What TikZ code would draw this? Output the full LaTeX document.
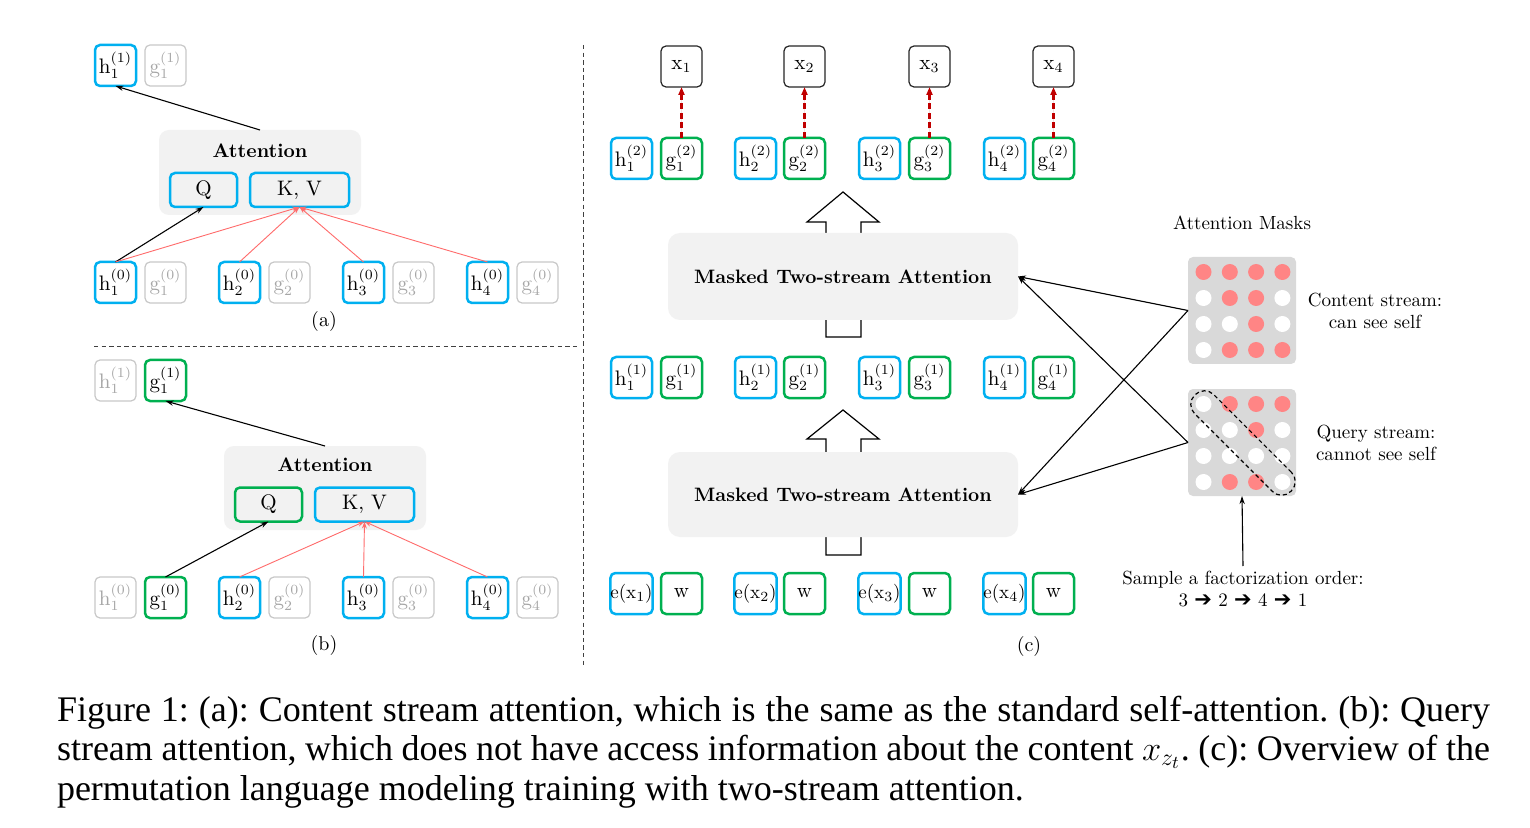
\documentclass[tikz,border=0pt]{standalone}
\usepackage{amsmath}
\usepackage{amssymb}
\usepackage{fontspec}
\newfontfamily\capfont{Liberation Serif}
\newfontfamily\arrowfont{DejaVu Sans}
\usepackage{tikz}
\usetikzlibrary{arrows.meta}

\definecolor{cblue}{HTML}{00B0F0}
\definecolor{cgreen}{HTML}{00B050}
\definecolor{cgrayline}{HTML}{C8C8C8}
\definecolor{cgraytext}{HTML}{A6A6A6}
\definecolor{cpanel}{HTML}{F2F2F2}
\definecolor{cmask}{HTML}{D9D9D9}
\definecolor{cdot}{HTML}{FF8585}
\definecolor{cline}{HTML}{FF6B6B}
\definecolor{cdark}{HTML}{C00000}

\newcommand{\hlab}[2]{$\mathrm{h}_{#1}^{(#2)}$}
\newcommand{\glab}[2]{$\mathrm{g}_{#1}^{(#2)}$}
\newcommand{\ordarrow}{{\arrowfont\fontsize{10.5}{11}\selectfont ➔}}

\begin{document}
\begin{tikzpicture}[
		x=0.5pt, y=-0.5pt,
		every node/.style={inner sep=0pt, outer sep=0pt},
		cell/.style={rectangle, rounded corners=2.5pt, minimum size=20.5pt,
			line width=1.25pt, font=\fontsize{10.5}{12}\selectfont},
		hcell/.style={cell, draw=cblue},
		gcell/.style={cell, draw=cgreen},
		offcell/.style={cell, draw=cgrayline, line width=0.6pt, text=cgraytext},
		xcell/.style={cell, draw=black!85, line width=0.6pt},
		panel/.style={rectangle, fill=cpanel, rounded corners=5pt},
		qk/.style={rectangle, rounded corners=2.5pt, line width=1.25pt,
			minimum height=17pt, font=\fontsize{10.5}{12}\selectfont},
		mta/.style={panel, rounded corners=6pt, minimum width=175pt,
			font=\bfseries\fontsize{9.7}{12}\selectfont},
		mask/.style={rectangle, fill=cmask, rounded corners=2.5pt,
			minimum width=54pt, minimum height=53.5pt},
		note/.style={align=center, font=\fontsize{9.5}{11}\selectfont},
		arr/.style={-{Stealth[length=4pt, width=2.6pt]}, line width=0.55pt},
		redarr/.style={-{Stealth[length=3.5pt, width=2.4pt]}, line width=0.45pt, draw=cline},
		outarr/.style={-{Triangle[length=4pt, width=3pt]}, line width=1.1pt,
			draw=cdark, fill=cdark, dash pattern=on 3pt off 1.8pt},
		sep/.style={line width=0.5pt, dash pattern=on 2.2pt off 1.6pt, draw=black!75},
		bigarr/.style={line width=0.6pt, fill=white},
		capline/.style={anchor=base west, font=\capfont\fontsize{18}{19.75}\selectfont\frenchspacing}
	]
  \path [fill=white, use as bounding box] (0,0) rectangle (1530,828);

  % (a) content stream
  \node (ha1) [hcell] at (115.5, 65.5) {\hlab{1}{1}};
  \node (ga1) [offcell] at (165.5, 65.5) {\glab{1}{1}};
  \node (attA) [panel, minimum width=101pt, minimum height=42.5pt] at (260, 172.5) {};
  \node (attA_t) [font=\bfseries\fontsize{9.8}{12}\selectfont] at (260, 151) {Attention};
  \node (qA) [qk, draw=cblue, minimum width=33.5pt] at (203.5, 190) {Q};
  \node (kvA) [qk, draw=cblue, minimum width=49.5pt] at (299.5, 190) {K, V};
  \node (ha01) [hcell] at (115.5, 282.5) {\hlab{1}{0}};
  \node (ga01) [offcell] at (165.5, 282.5) {\glab{1}{0}};
  \node (ha02) [hcell] at (239.5, 282.5) {\hlab{2}{0}};
  \node (ga02) [offcell] at (289.5, 282.5) {\glab{2}{0}};
  \node (ha03) [hcell] at (363.5, 282.5) {\hlab{3}{0}};
  \node (ga03) [offcell] at (413.5, 282.5) {\glab{3}{0}};
  \node (ha04) [hcell] at (487.5, 282.5) {\hlab{4}{0}};
  \node (ga04) [offcell] at (537.5, 282.5) {\glab{4}{0}};
  \node (lab_a) [font=\fontsize{10}{12}\selectfont] at (324, 322) {(a)};
  \draw [arr] (attA.north) -- (ha1.south);
  \draw [arr] (ha01.north) -- (qA.south);
  \draw [redarr] (ha01.north) -- (kvA.south);
  \draw [redarr] (ha02.north) -- (kvA.south);
  \draw [redarr] (ha03.north) -- (kvA.south);
  \draw [redarr] (ha04.north) -- (kvA.south);

  \draw [sep] (94, 347) -- (580, 347);
  \draw [sep] (583, 45) -- (583, 665);

  % (b) query stream
  \node (hb1) [offcell] at (115.5, 380.5) {\hlab{1}{1}};
  \node (gb1) [gcell] at (165.5, 380.5) {\glab{1}{1}};
  \node (attB) [panel, minimum width=101pt, minimum height=42pt] at (325, 488) {};
  \node (attB_t) [font=\bfseries\fontsize{9.8}{12}\selectfont] at (325, 465) {Attention};
  \node (qB) [qk, draw=cgreen, minimum width=33.5pt] at (268.5, 504.5) {Q};
  \node (kvB) [qk, draw=cblue, minimum width=49.5pt] at (364.5, 504.5) {K, V};
  \node (hb01) [offcell] at (115.5, 597.5) {\hlab{1}{0}};
  \node (gb01) [gcell] at (165.5, 597.5) {\glab{1}{0}};
  \node (hb02) [hcell] at (239.5, 597.5) {\hlab{2}{0}};
  \node (gb02) [offcell] at (289.5, 597.5) {\glab{2}{0}};
  \node (hb03) [hcell] at (363.5, 597.5) {\hlab{3}{0}};
  \node (gb03) [offcell] at (413.5, 597.5) {\glab{3}{0}};
  \node (hb04) [hcell] at (487.5, 597.5) {\hlab{4}{0}};
  \node (gb04) [offcell] at (537.5, 597.5) {\glab{4}{0}};
  \node (lab_b) [font=\fontsize{10}{12}\selectfont] at (324, 645) {(b)};
  \draw [arr] (attB.north) -- (gb1.south);
  \draw [arr] (gb01.north) -- (qB.south);
  \draw [redarr] (hb02.north) -- (kvB.south);
  \draw [redarr] (hb03.north) -- (kvB.south);
  \draw [redarr] (hb04.north) -- (kvB.south);

  % (c) overview
  \node (x1) [xcell] at (681.5, 66.5) {x$_1$};
  \node (x2) [xcell] at (804.5, 66.5) {x$_2$};
  \node (x3) [xcell] at (929.5, 66.5) {x$_3$};
  \node (x4) [xcell] at (1053.5, 66.5) {x$_4$};
  \node (h2_1) [hcell] at (631.5, 158.5) {\hlab{1}{2}};
  \node (g2_1) [gcell] at (681.5, 158.5) {\glab{1}{2}};
  \node (h2_2) [hcell] at (755.5, 158.5) {\hlab{2}{2}};
  \node (g2_2) [gcell] at (804.5, 158.5) {\glab{2}{2}};
  \node (h2_3) [hcell] at (879.5, 158.5) {\hlab{3}{2}};
  \node (g2_3) [gcell] at (929.5, 158.5) {\glab{3}{2}};
  \node (h2_4) [hcell] at (1004.5, 158.5) {\hlab{4}{2}};
  \node (g2_4) [gcell] at (1053.5, 158.5) {\glab{4}{2}};
  \draw [outarr] (g2_1.north) -- (x1.south);
  \draw [outarr] (g2_2.north) -- (x2.south);
  \draw [outarr] (g2_3.north) -- (x3.south);
  \draw [outarr] (g2_4.north) -- (x4.south);

  \draw [bigarr] (826, 337) -- (826, 222) -- (807, 222) -- (843, 192) -- (879, 222)
    -- (861, 222) -- (861, 337) -- cycle;
  \node (mta1) [mta, minimum height=43.5pt] at (843, 276.5) {Masked Two-stream Attention};

  \node (h1_1) [hcell] at (631.5, 377.5) {\hlab{1}{1}};
  \node (g1_1) [gcell] at (681.5, 377.5) {\glab{1}{1}};
  \node (h1_2) [hcell] at (755.5, 377.5) {\hlab{2}{1}};
  \node (g1_2) [gcell] at (804.5, 377.5) {\glab{2}{1}};
  \node (h1_3) [hcell] at (879.5, 377.5) {\hlab{3}{1}};
  \node (g1_3) [gcell] at (929.5, 377.5) {\glab{3}{1}};
  \node (h1_4) [hcell] at (1004.5, 377.5) {\hlab{4}{1}};
  \node (g1_4) [gcell] at (1053.5, 377.5) {\glab{4}{1}};

  \draw [bigarr] (826, 555) -- (826, 439) -- (807, 439) -- (843, 410) -- (879, 439)
    -- (861, 439) -- (861, 555) -- cycle;
  \node (mta2) [mta, minimum height=42.5pt] at (843, 494.5) {Masked Two-stream Attention};

  \node (e1) [hcell, font=\fontsize{9.5}{12}\selectfont] at (631.5, 593.5) {e(x$_1$)};
  \node (w1) [gcell] at (681.5, 593.5) {w};
  \node (e2) [hcell, font=\fontsize{9.5}{12}\selectfont] at (755.5, 593.5) {e(x$_2$)};
  \node (w2) [gcell] at (804.5, 593.5) {w};
  \node (e3) [hcell, font=\fontsize{9.5}{12}\selectfont] at (879.5, 593.5) {e(x$_3$)};
  \node (w3) [gcell] at (929.5, 593.5) {w};
  \node (e4) [hcell, font=\fontsize{9.5}{12}\selectfont] at (1004.5, 593.5) {e(x$_4$)};
  \node (w4) [gcell] at (1053.5, 593.5) {w};
  \node (lab_c) [font=\fontsize{10}{12}\selectfont] at (1029, 646) {(c)};

  % masks
  \node (masks_t) [note] at (1242, 223) {Attention Masks};
  \node (mk1) [mask] at (1242, 310.5) {};
  \node (mk2) [mask] at (1242, 442.5) {};
  \foreach \row [count=\i] in {{cdot,cdot,cdot,cdot},{white,cdot,cdot,white},
      {white,white,cdot,white},{white,cdot,cdot,cdot}}
    \foreach \col [count=\j] in \row
      \fill [\col] ({1203.5+26.3*(\j-1)}, {272+26*(\i-1)}) circle [radius=4pt];
  \foreach \row [count=\i] in {{white,cdot,cdot,cdot},{white,white,cdot,white},
      {white,white,white,white},{white,cdot,cdot,white}}
    \foreach \col [count=\j] in \row
      \fill [\col] ({1203.5+26.3*(\j-1)}, {404+26*(\i-1)}) circle [radius=4pt];
  \node (diag) [draw, rounded corners=6.5pt, minimum width=68pt, minimum height=13.5pt,
    rotate=-45, line width=0.6pt, dash pattern=on 2pt off 1.5pt] at (1243, 443) {};
  \node (cs) [note] at (1375, 311) {Content stream:\\can see self};
  \node (qs) [note] at (1376, 443) {Query stream:\\cannot see self};
  \node (order) [note, anchor=north, inner sep=2.5pt] at (1243, 566)
    {Sample a factorization order:\\3 \ordarrow{} 2 \ordarrow{} 4 \ordarrow{} 1};
  \draw [arr] (order.north) -- (mk2.south);
  \draw [arr] (mk1.west) -- (mta1.east);
  \draw [arr] (mk1.west) -- (mta2.east);
  \draw [arr] (mk2.west) -- (mta1.east);
  \draw [arr] (mk2.west) -- (mta2.east);

  % caption
  \node (cap1) [capline] at (57, 721) {\makebox[716.5pt][s]{Figure 1: (a): Content stream attention, which is the same as the standard self-attention. (b): Query}};
  \node (cap2) [capline] at (57, 760) {\makebox[716.5pt][s]{stream attention, which does not have access information about the content $x_{z_t}$. (c): Overview of the}};
  \node (cap3) [capline] at (57, 800) {permutation language modeling training with two-stream attention.};
\end{tikzpicture}
\end{document}
